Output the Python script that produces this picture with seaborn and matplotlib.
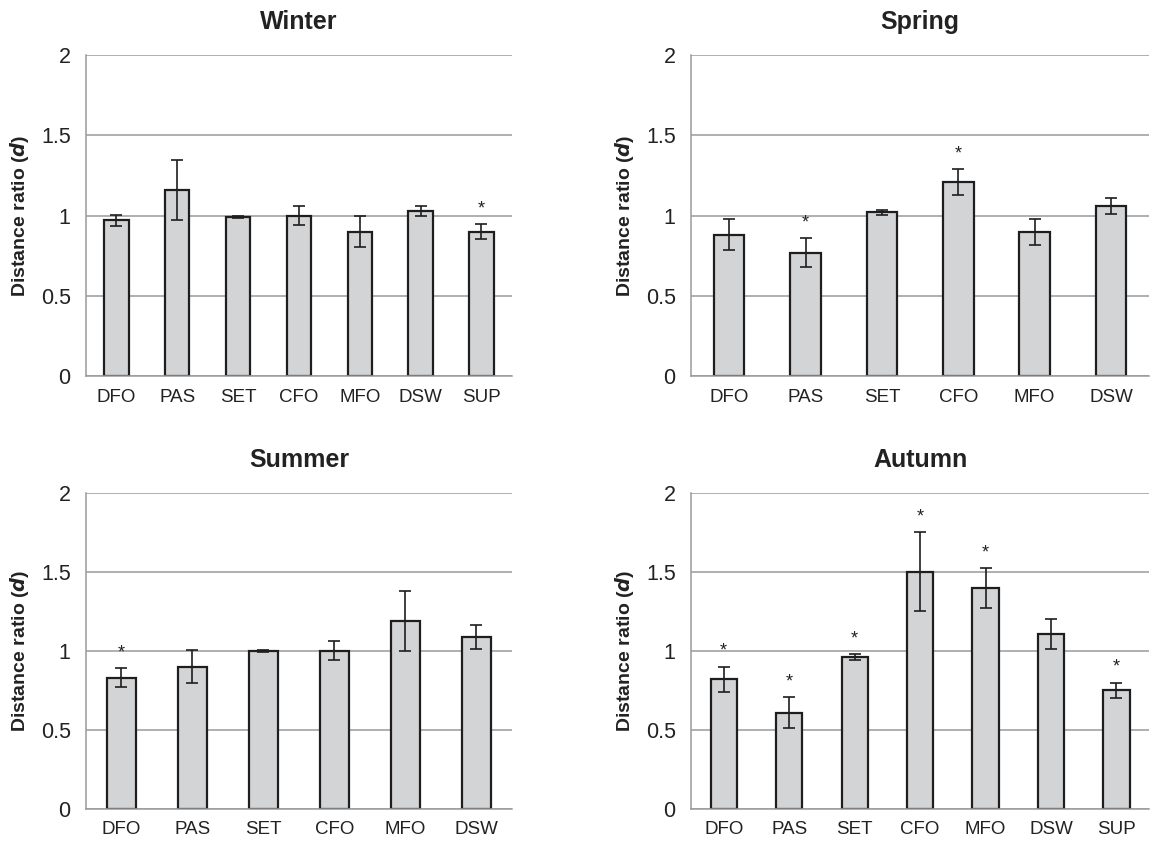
import matplotlib
matplotlib.use("Agg")
import matplotlib.pyplot as plt
import seaborn as sns

# Data (mean distance ratio, error half-width, significance)
winter_sites = ["DFO", "PAS", "SET", "CFO", "MFO", "DSW", "SUP"]
winter_mean = [0.97, 1.16, 0.99, 1.00, 0.90, 1.03, 0.90]
winter_err = [0.035, 0.19, 0.006, 0.06, 0.095, 0.03, 0.045]
winter_sig = [False, False, False, False, False, False, True]

spring_sites = ["DFO", "PAS", "SET", "CFO", "MFO", "DSW"]
spring_mean = [0.88, 0.77, 1.02, 1.21, 0.90, 1.06]
spring_err = [0.097, 0.09, 0.015, 0.08, 0.08, 0.05]
spring_sig = [False, True, False, True, False, False]

summer_sites = ["DFO", "PAS", "SET", "CFO", "MFO", "DSW"]
summer_mean = [0.83, 0.90, 1.00, 1.00, 1.19, 1.09]
summer_err = [0.06, 0.105, 0.004, 0.06, 0.19, 0.076]
summer_sig = [True, False, False, False, False, False]

autumn_sites = ["DFO", "PAS", "SET", "CFO", "MFO", "DSW", "SUP"]
autumn_mean = [0.82, 0.61, 0.96, 1.50, 1.40, 1.11, 0.75]
autumn_err = [0.08, 0.098, 0.02, 0.25, 0.125, 0.095, 0.05]
autumn_sig = [True, True, True, True, True, False, True]

sns.set_style("white")
plt.rcParams["font.family"] = ["Liberation Sans", "DejaVu Sans"]

fig = plt.figure(figsize=(11.54, 8.44), dpi=100)

panels = [
    ("Winter", winter_sites, winter_mean, winter_err, winter_sig, [0.0745, 0.5545, 0.369, 0.380]),
    ("Spring", spring_sites, spring_mean, spring_err, spring_sig, [0.5988, 0.5545, 0.397, 0.380]),
    ("Summer", summer_sites, summer_mean, summer_err, summer_sig, [0.0745, 0.0415, 0.369, 0.3744]),
    ("Autumn", autumn_sites, autumn_mean, autumn_err, autumn_sig, [0.5988, 0.0415, 0.397, 0.3744]),
]

grid_col = "#9a9a9a"
for title, sites, mean, err, sig, rect in panels:
    ax = fig.add_axes(rect)
    sns.barplot(x=sites, y=mean, errorbar=None, color="#d3d4d6", edgecolor="#1e1e1e",
                linewidth=1.6, width=0.4, saturation=1, ax=ax, zorder=3)
    pos = list(range(len(sites)))
    ax.errorbar(pos, mean, yerr=err, fmt="none", ecolor="#1e1e1e", elinewidth=1.2,
                capsize=4.5, capthick=1.2, zorder=4)
    for x, m, e, s in zip(pos, mean, err, sig):
        if s:
            ax.annotate("*", (x, m + e), xytext=(0, 5), textcoords="offset points",
                        ha="center", va="bottom", fontsize=13, color="#222222")

    ax.set_xlim(-0.5, len(sites) - 0.5)
    ax.set_ylim(0, 2)
    ax.set_yticks([0, 0.5, 1, 1.5, 2])
    ax.set_yticklabels(["0", "0.5", "1", "1.5", "2"])
    ax.yaxis.grid(True, color=grid_col, linewidth=1.1, zorder=0)
    ax.xaxis.grid(False)
    ax.set_axisbelow(True)

    ax.set_xticks([i + 0.5 for i in range(-1, len(sites))], minor=True)
    ax.tick_params(axis="x", which="major", length=0, labelsize=13.5, pad=9, colors="#222222")
    ax.tick_params(axis="x", which="minor", length=6, width=1, color=grid_col, direction="out")
    ax.tick_params(axis="y", length=7, width=1, color=grid_col, direction="out",
                   labelsize=15.5, pad=4, labelcolor="#222222")

    for side in ["top", "right"]:
        ax.spines[side].set_visible(False)
    for side in ["left", "bottom"]:
        ax.spines[side].set_color(grid_col)
        ax.spines[side].set_linewidth(1.1)
        ax.spines[side].set_zorder(5)

    ax.set_title(title, fontsize=18, fontweight="bold", pad=19, color="#222222")
    ax.set_ylabel("Distance ratio ($\\mathbfit{d}$)", fontsize=14, fontweight="bold",
                  labelpad=7, color="#222222")

fig.savefig("out.png", dpi=100)
